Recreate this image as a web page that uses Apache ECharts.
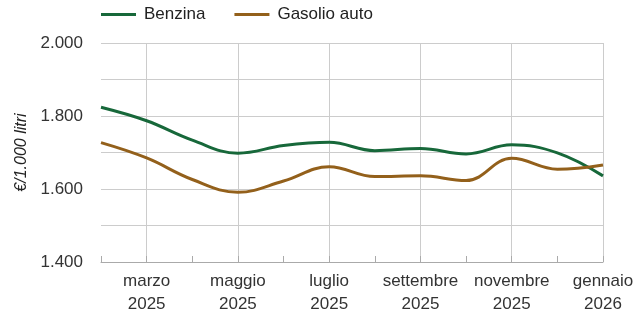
<!DOCTYPE html>
<html><head><meta charset="utf-8">
<script src="https://cdn.jsdelivr.net/npm/echarts@6/dist/echarts.min.js"></script>
<style>html,body{margin:0;padding:0;background:#fff}#c{width:640px;height:317px}</style>
</head><body><div id="c"></div>
<script>
const categories = ['febbraio\n2025','marzo\n2025','aprile\n2025','maggio\n2025','giugno\n2025','luglio\n2025','agosto\n2025','settembre\n2025','ottobre\n2025','novembre\n2025','dicembre\n2025','gennaio\n2026'];
const benzina = [1824, 1787, 1734, 1698, 1719, 1728, 1705, 1711, 1696, 1721, 1699, 1636];
const gasolio = [1727, 1685, 1626, 1591, 1622, 1661, 1634, 1636, 1623, 1684, 1654, 1666];
const yTicks = [1400, 1600, 1800, 2000];
const fmt = v => String(v).replace(/\B(?=(\d{3})+(?!\d))/g, '.');
const chart = echarts.init(document.getElementById('c'), null, {renderer:'canvas'});
chart.setOption({
  animation:false,
  textStyle:{fontFamily:'Liberation Sans, Arial, sans-serif'},
  legend:{left:96, top:1, itemWidth:35, itemHeight:3, itemGap:29, icon:'rect',
    textStyle:{fontSize:17, color:'#222', padding:[0,0,0,3]},
    data:['Benzina','Gasolio auto']},
  grid:{left:101, right:37, top:43, bottom:55},
  xAxis:{type:'category', data:categories, boundaryGap:false,
    axisLine:{lineStyle:{color:'#aaa'}},
    axisTick:{show:true, interval:0, inside:true, length:6, lineStyle:{color:'#aaa'}},
    axisLabel:{interval:(i)=>i%2===1, fontSize:17, color:'#333', lineHeight:23, margin:8},
    splitLine:{show:true, interval:(i)=>i%2===1, lineStyle:{color:'#ccc'}}},
  yAxis:{type:'value', min:1400, max:2000, interval:100,
    name:'€/1.000 litri', nameLocation:'middle', nameGap:68,
    nameTextStyle:{fontSize:16, fontStyle:'italic', color:'#222'},
    axisLine:{show:false}, axisTick:{show:false},
    axisLabel:{fontSize:17, color:'#333', margin:18,
      formatter:v=> yTicks.includes(v) ? fmt(v) : ''},
    splitLine:{lineStyle:{color:'#ccc'}}},
  series:[
    {name:'Benzina', type:'line', data:benzina, smooth:0.4, showSymbol:false,
      lineStyle:{width:3, color:'#17683a'}, itemStyle:{color:'#17683a'}},
    {name:'Gasolio auto', type:'line', data:gasolio, smooth:0.4, showSymbol:false,
      lineStyle:{width:3, color:'#93601b'}, itemStyle:{color:'#93601b'}}
  ]
});
</script></body></html>
